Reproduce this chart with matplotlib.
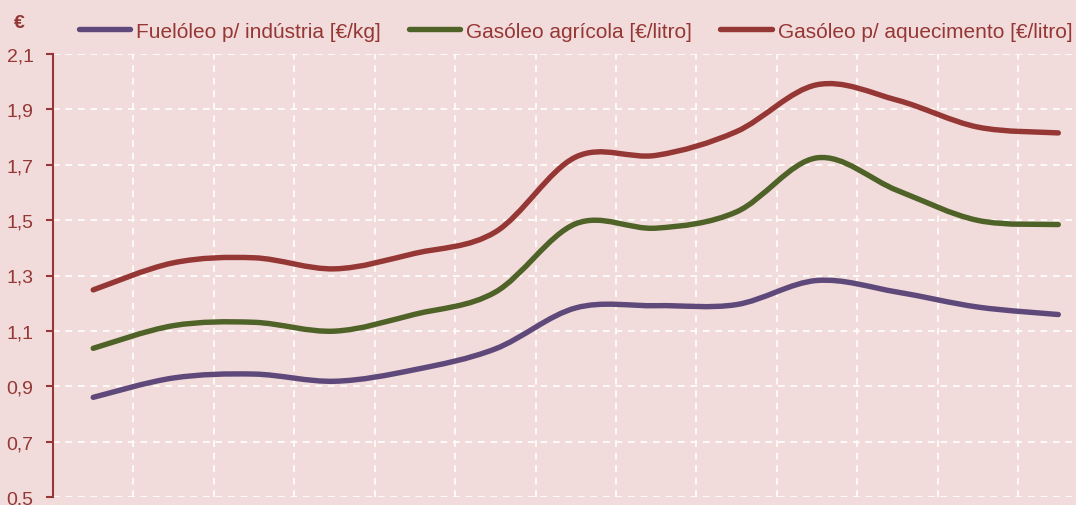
import numpy as np
import matplotlib
matplotlib.use('Agg')
import matplotlib.pyplot as plt
from matplotlib.path import Path
from matplotlib.patches import PathPatch
from matplotlib.lines import Line2D

plt.rcParams['font.family'] = ['Liberation Sans', 'DejaVu Sans']

# data (13 periods)
fuel = [0.860, 0.930, 0.944, 0.918, 0.960, 1.035, 1.183, 1.191, 1.195, 1.282, 1.240, 1.186, 1.159]
agricola = [1.037, 1.119, 1.131, 1.099, 1.160, 1.240, 1.487, 1.471, 1.530, 1.725, 1.607, 1.499, 1.484]
aquecimento = [1.248, 1.346, 1.364, 1.324, 1.380, 1.457, 1.728, 1.734, 1.820, 1.989, 1.933, 1.836, 1.815]
labels = ['Fuelóleo p/ indústria [€/kg]', 'Gasóleo agrícola [€/litro]',
          'Gasóleo p/ aquecimento [€/litro]']
yticks = [0.5, 0.7, 0.9, 1.1, 1.3, 1.5, 1.7, 1.9, 2.1]
ytick_labels = ['0,5', '0,7', '0,9', '1,1', '1,3', '1,5', '1,7', '1,9', '2,1']

colors = ['#5F497A', '#4F6228', '#953735']
txt = '#953735'
bg = '#F2DCDB'


def smooth_path(x, y):
    # Excel-like smoothed line: Catmull-Rom segments as cubic Bezier curves
    pts = np.column_stack([x, y])
    n = len(pts)
    verts = [pts[0]]
    codes = [Path.MOVETO]
    for i in range(n - 1):
        p0 = pts[i - 1] if i > 0 else pts[i]
        p1, p2 = pts[i], pts[i + 1]
        p3 = pts[i + 2] if i + 2 < n else pts[i + 1]
        c1 = p1 + (p2 - p0) / 6.0
        c2 = p2 - (p3 - p1) / 6.0
        verts += [c1, c2, p2]
        codes += [Path.CURVE4] * 3
    return Path(verts, codes)


fig = plt.figure(figsize=(10.76, 5.06), dpi=100)
fig.patch.set_facecolor(bg)
ax = fig.add_axes([53 / 1076, 8 / 506, 1045.5 / 1076, 443 / 506])
ax.set_facecolor(bg)

x = np.arange(len(fuel))
for vals, c in zip([fuel, agricola, aquecimento], colors):
    ax.add_patch(PathPatch(smooth_path(x, vals), fill=False, edgecolor=c,
                           lw=3.9, capstyle='round', joinstyle='round', zorder=3))

ax.set_xlim(-0.5, len(fuel) - 0.5)
ax.set_ylim(0.5, 2.1)
ax.set_yticks(yticks)
ax.set_yticklabels(ytick_labels)
ax.set_xticks(np.arange(len(fuel) - 1) + 0.5)
ax.tick_params(axis='x', length=0, labelbottom=False)
ax.tick_params(axis='y', colors=txt, labelcolor=txt, labelsize=14, length=5,
               width=1.5, pad=9)

ax.grid(True, color='white', ls=(0, (4, 3.5)), lw=1.2)
ax.set_axisbelow(True)
for s in ['top', 'right', 'bottom']:
    ax.spines[s].set_visible(False)
ax.spines['left'].set_color(txt)
ax.spines['left'].set_linewidth(1.5)

fig.text(14 / 1076, 1 - 24 / 506, '€', color=txt, fontsize=14, fontweight='bold',
         va='center', ha='left')

handles = [Line2D([], [], color=c, lw=3.9, solid_capstyle='round') for c in colors]
fig.legend(handles, labels, loc='center left', bbox_to_anchor=(79 / 1076, 1 - 32 / 506),
           ncol=3, frameon=False, fontsize=15, labelcolor=txt, handlelength=2.45,
           handletextpad=0.3, columnspacing=1.35, borderaxespad=0, borderpad=0)

fig.savefig('out.png', dpi=100, facecolor=bg)
